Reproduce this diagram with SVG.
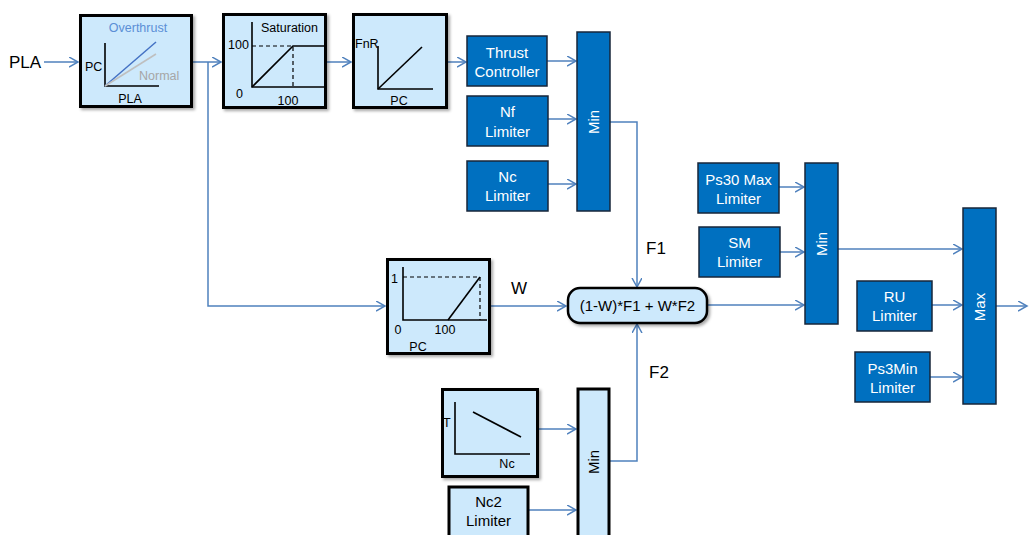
<svg xmlns="http://www.w3.org/2000/svg" width="1029" height="535" viewBox="0 0 1029 535">
<defs>
<style>
.lb{fill:#cde9fc;stroke:#000;stroke-width:3}
.db{fill:#0070c0;stroke:#17263a;stroke-width:1.5}
.wt{fill:#fff;font-family:"Liberation Sans",Arial,sans-serif;font-size:15px;text-anchor:middle}
.bt{fill:#000;font-family:"Liberation Sans",Arial,sans-serif;font-size:15px;text-anchor:middle}
.sm{fill:#000;font-family:"Liberation Sans",Arial,sans-serif;font-size:12.5px}
.ax{stroke:#000;stroke-width:1.6;fill:none}
.ds{stroke:#000;stroke-width:1.2;fill:none;stroke-dasharray:4 3}
.lbl{fill:#000;font-family:"Liberation Sans",Arial,sans-serif;font-size:17px}
.cn{stroke:#4f81bd;stroke-width:1.5;fill:none;marker-end:url(#ar)}
</style>
<marker id="ar" markerUnits="userSpaceOnUse" markerWidth="12" markerHeight="12" refX="9" refY="5" orient="auto">
<path d="M0,0 L9,5 L0,10" fill="none" stroke="#4f81bd" stroke-width="1.5"/>
</marker>
<filter id="sh" x="-10%" y="-10%" width="130%" height="130%">
<feDropShadow dx="2" dy="2" stdDeviation="1.5" flood-color="#000" flood-opacity="0.35"/>
</filter>
</defs>

<g id="connectors">
<path class="cn" d="M44,62 H78"/>
<path class="cn" d="M193,62 H221"/>
<path class="cn" d="M208,62 V306 H385"/>
<path class="cn" d="M327,62 H351"/>
<path class="cn" d="M448,62 H466"/>
<path class="cn" d="M547,61 H576"/>
<path class="cn" d="M548,119 H576"/>
<path class="cn" d="M548,184 H576"/>
<path class="cn" d="M610,122 H637 V287"/>
<path class="cn" d="M491,306 H566"/>
<path class="cn" d="M539,429 H576"/>
<path class="cn" d="M529,510 H576"/>
<path class="cn" d="M610,461 H637 V324"/>
<path class="cn" d="M708,305 H804"/>
<path class="cn" d="M779,187 H804"/>
<path class="cn" d="M780,252 H804"/>
<path class="cn" d="M838,249 H962"/>
<path class="cn" d="M932,305 H962"/>
<path class="cn" d="M930,377 H962"/>
<path class="cn" d="M996,306 H1027"/>
</g>

<g id="labels">
<text class="lbl" x="9" y="68">PLA</text>
<text class="lbl" x="511" y="294" font-size="18">W</text>
<text class="lbl" x="646" y="254" font-size="18">F1</text>
<text class="lbl" x="649" y="378" font-size="18">F2</text>
</g>

<g id="overthrust">
<rect class="lb" x="80.5" y="15.5" width="111" height="91" filter="url(#sh)"/>
<text x="138" y="32" fill="#5b8fd6" font-family="Liberation Sans,Arial,sans-serif" font-size="12.5" text-anchor="middle">Overthrust</text>
<path class="ax" d="M105,43 V86 H159"/>
<path d="M105,86 L156,42" stroke="#4472c4" stroke-width="1.5"/>
<path d="M105,86 L156,54" stroke="#bfbfbf" stroke-width="1.5"/>
<text x="139" y="80" fill="#a6a6a6" font-family="Liberation Sans,Arial,sans-serif" font-size="12.5">Normal</text>
<text class="sm" x="85" y="71">PC</text>
<text class="sm" x="130" y="103" text-anchor="middle">PLA</text>
</g>

<g id="saturation">
<rect class="lb" x="223.5" y="14.5" width="102" height="93" filter="url(#sh)"/>
<text class="sm" x="261" y="32">Saturation</text>
<path class="ax" d="M252,22 V87 H324"/>
<path class="ds" d="M252,46 H293 V87"/>
<path class="ax" d="M252,87 L293,46 H324"/>
<text class="sm" x="228" y="49">100</text>
<text class="sm" x="236" y="98">0</text>
<text class="sm" x="288" y="105" text-anchor="middle">100</text>
</g>

<g id="fnr">
<rect class="lb" x="353.5" y="14.5" width="93" height="93" filter="url(#sh)"/>
<text class="sm" x="355" y="48" font-size="11">FnR</text>
<path class="ax" d="M378,46 V89 H433"/>
<path class="ax" d="M378,89 L422,47"/>
<text class="sm" x="399" y="105" text-anchor="middle">PC</text>
</g>

<g id="thrust-controller">
<rect class="db" x="467" y="36" width="80" height="50"/>
<text class="wt" x="507" y="58">Thrust</text>
<text class="wt" x="507" y="77">Controller</text>
</g>

<g id="nf-limiter">
<rect class="db" x="467" y="96" width="81" height="50"/>
<text class="wt" x="507.5" y="117">Nf</text>
<text class="wt" x="507.5" y="137">Limiter</text>
</g>

<g id="nc-limiter">
<rect class="db" x="467" y="161" width="81" height="50"/>
<text class="wt" x="507.5" y="182">Nc</text>
<text class="wt" x="507.5" y="201">Limiter</text>
</g>

<g id="min-top">
<rect class="db" x="577" y="32" width="33" height="179"/>
<text class="wt" transform="translate(599,122) rotate(-90)">Min</text>
</g>

<g id="w-block">
<rect class="lb" x="387.5" y="259.5" width="102" height="94" filter="url(#sh)"/>
<path class="ax" d="M403,267 V320 H487"/>
<path class="ds" d="M403,277 H480 V320"/>
<path class="ax" d="M448,320 L480,277"/>
<text class="sm" x="391" y="283">1</text>
<text class="sm" x="398" y="334" text-anchor="middle">0</text>
<text class="sm" x="445" y="334" text-anchor="middle">100</text>
<text class="sm" x="418" y="351" text-anchor="middle">PC</text>
</g>

<g id="formula">
<rect x="568" y="288" width="139" height="35" rx="12" ry="12" fill="#cde9fc" stroke="#000" stroke-width="2.5" filter="url(#sh)"/>
<text class="bt" x="637.5" y="311" font-size="14">(1-W)*F1 + W*F2</text>
</g>

<g id="t-nc-block">
<rect class="lb" x="442.5" y="389.5" width="95" height="87" filter="url(#sh)"/>
<path class="ax" d="M455,402 V454 H530"/>
<path class="ax" d="M473,412 L521,437"/>
<text class="sm" x="443" y="427">T</text>
<text class="sm" x="507" y="468" text-anchor="middle">Nc</text>
</g>

<g id="nc2-limiter">
<rect class="lb" x="449" y="487" width="79" height="60" stroke-width="2.5"/>
<text class="bt" x="488.5" y="507">Nc2</text>
<text class="bt" x="488.5" y="526">Limiter</text>
</g>

<g id="min-bottom">
<rect class="lb" x="578" y="389" width="31" height="160" stroke-width="2.5"/>
<text class="bt" transform="translate(599,462) rotate(-90)">Min</text>
</g>

<g id="ps30-max-limiter">
<rect class="db" x="698" y="163" width="81" height="50"/>
<text class="wt" x="738.5" y="185">Ps30 Max</text>
<text class="wt" x="738.5" y="204">Limiter</text>
</g>

<g id="sm-limiter">
<rect class="db" x="699" y="227" width="81" height="50"/>
<text class="wt" x="739.5" y="248">SM</text>
<text class="wt" x="739.5" y="267">Limiter</text>
</g>

<g id="min-right">
<rect class="db" x="805" y="163" width="33" height="161"/>
<text class="wt" transform="translate(827,244) rotate(-90)">Min</text>
</g>

<g id="ru-limiter">
<rect class="db" x="857" y="281" width="75" height="50"/>
<text class="wt" x="894.5" y="302">RU</text>
<text class="wt" x="894.5" y="321">Limiter</text>
</g>

<g id="ps3min-limiter">
<rect class="db" x="855" y="352" width="75" height="50"/>
<text class="wt" x="892.5" y="374">Ps3Min</text>
<text class="wt" x="892.5" y="393">Limiter</text>
</g>

<g id="max">
<rect class="db" x="963" y="208" width="33" height="196"/>
<text class="wt" transform="translate(985,307) rotate(-90)">Max</text>
</g>
</svg>
